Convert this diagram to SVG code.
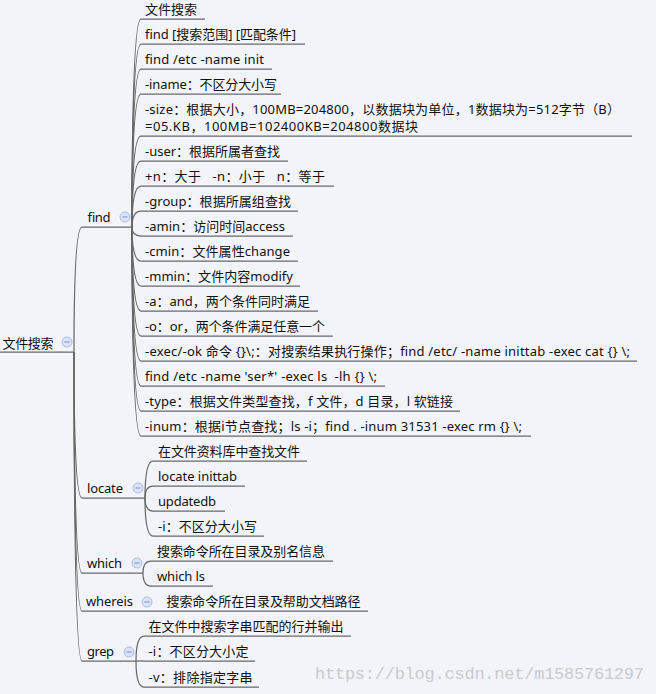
<svg xmlns="http://www.w3.org/2000/svg" width="656" height="694" viewBox="0 0 656 694">
<style>
text{font-family:"Noto Sans","Noto Sans CJK SC",sans-serif;font-size:13px;fill:#111;white-space:pre}
.ul{stroke:#686868;stroke-width:1.25;fill:none}
.cn path{stroke:#686868;stroke-width:1.25;fill:none}
.tg circle{fill:#dbe4f6;stroke:#a9bbe4;stroke-width:1}
.tg line{stroke:#849cd2;stroke-width:1.2}
.wm{font-family:"Liberation Mono",monospace;font-size:17px;fill:#c9cacf}
</style>
<rect width="656" height="694" fill="#f3f4f9"/>
<g id="connectors" class="cn">
<path d="M74,352 Q74,227 82,227"/>
<path d="M74,352 Q74,498 82,498"/>
<path d="M74,352 Q74,573 82,573"/>
<path d="M74,352 Q74,611 82,611"/>
<path d="M74,352 Q74,661 82,661"/>
<path d="M132,227 Q132,19 141,19"/>
<path d="M132,227 Q132,44 141,44"/>
<path d="M132,227 Q132,69 141,69"/>
<path d="M132,227 Q132,94 141,94"/>
<path d="M132,227 Q132,136 141,136"/>
<path d="M132,227 Q132,161 141,161"/>
<path d="M132,227 Q132,186 141,186"/>
<path d="M132,227 Q132,211 141,211"/>
<path d="M132,227 Q132,236 141,236"/>
<path d="M132,227 Q132,261 141,261"/>
<path d="M132,227 Q132,286 141,286"/>
<path d="M132,227 Q132,311 141,311"/>
<path d="M132,227 Q132,336 141,336"/>
<path d="M132,227 Q132,361 141,361"/>
<path d="M132,227 Q132,386 141,386"/>
<path d="M132,227 Q132,411 141,411"/>
<path d="M132,227 Q132,436 141,436"/>
<path d="M145,498 Q145,461 153,461"/>
<path d="M145,498 Q145,486 153,486"/>
<path d="M145,498 Q145,511 153,511"/>
<path d="M145,498 Q145,536 153,536"/>
<path d="M143,573 Q143,561 151,561"/>
<path d="M143,573 Q143,586 151,586"/>
<path d="M136,661 Q136,636 144,636"/>
<path d="M136,661 L144,661"/>
<path d="M136,661 Q136,687 144,687"/>
</g>
<g id="root">
<line class="ul" x1="0" y1="352" x2="74" y2="352"/>
<text x="2.5" y="347.5" textLength="51">文件搜索</text>
<g class="tg"><circle cx="67" cy="342" r="5"/><line x1="64.5" y1="342" x2="69.5" y2="342"/></g>
</g>
<g id="find">
<line class="ul" x1="82" y1="227" x2="132" y2="227"/>
<text x="87" y="222" textLength="23">find</text>
<g class="tg"><circle cx="125" cy="217" r="5"/><line x1="122.5" y1="217" x2="127.5" y2="217"/></g>
</g>
<g id="find-1"><line class="ul" x1="141" y1="19" x2="205" y2="19"/><text x="145" y="14" textLength="52">文件搜索</text></g>
<g id="find-2"><line class="ul" x1="141" y1="44" x2="305" y2="44"/><text x="145" y="39" textLength="151">find [搜索范围] [匹配条件]</text></g>
<g id="find-3"><line class="ul" x1="141" y1="69" x2="272" y2="69"/><text x="145" y="64" textLength="119">find /etc -name init</text></g>
<g id="find-4"><line class="ul" x1="141" y1="94" x2="281" y2="94"/><text x="145" y="89" textLength="132">-iname：不区分大小写</text></g>
<g id="find-5"><line class="ul" x1="141" y1="136" x2="632" y2="136"/><text x="145" y="114" textLength="475">-size：根据大小，100MB=204800，以数据块为单位，1数据块为=512字节（B）</text><text x="145" y="131" textLength="273">=05.KB，100MB=102400KB=204800数据块</text></g>
<g id="find-6"><line class="ul" x1="141" y1="161" x2="288" y2="161"/><text x="145" y="156" textLength="135">-user：根据所属者查找</text></g>
<g id="find-7"><line class="ul" x1="141" y1="186" x2="334" y2="186"/><text x="145" y="181" textLength="180">+n：大于   -n：小于   n：等于</text></g>
<g id="find-8"><line class="ul" x1="141" y1="211" x2="298" y2="211"/><text x="145" y="206" textLength="146">-group：根据所属组查找</text></g>
<g id="find-9"><line class="ul" x1="141" y1="236" x2="293" y2="236"/><text x="145" y="231" textLength="140">-amin：访问时间access</text></g>
<g id="find-10"><line class="ul" x1="141" y1="261" x2="298" y2="261"/><text x="145" y="256" textLength="145">-cmin：文件属性change</text></g>
<g id="find-11"><line class="ul" x1="141" y1="286" x2="300" y2="286"/><text x="145" y="281" textLength="148">-mmin：文件内容modify</text></g>
<g id="find-12"><line class="ul" x1="141" y1="311" x2="318" y2="311"/><text x="145" y="306" textLength="165">-a：and，两个条件同时满足</text></g>
<g id="find-13"><line class="ul" x1="141" y1="336" x2="333" y2="336"/><text x="145" y="331" textLength="180">-o：or，两个条件满足任意一个</text></g>
<g id="find-14"><line class="ul" x1="141" y1="361" x2="637" y2="361"/><text x="145" y="356" textLength="485">-exec/-ok 命令 {}\;：对搜索结果执行操作；find /etc/ -name inittab -exec cat {} \;</text></g>
<g id="find-15"><line class="ul" x1="141" y1="386" x2="385" y2="386"/><text x="145" y="381" textLength="232">find /etc -name 'ser*' -exec ls  -lh {} \;</text></g>
<g id="find-16"><line class="ul" x1="141" y1="411" x2="460" y2="411"/><text x="145" y="406" textLength="308">-type：根据文件类型查找，f 文件，d 目录，l 软链接</text></g>
<g id="find-17"><line class="ul" x1="141" y1="436" x2="531" y2="436"/><text x="145" y="431" textLength="377">-inum：根据i节点查找；ls -i；find . -inum 31531 -exec rm {} \;</text></g>
<g id="locate">
<line class="ul" x1="82" y1="498" x2="145" y2="498"/>
<text x="87" y="493" textLength="36">locate</text>
<g class="tg"><circle cx="138" cy="488" r="5"/><line x1="135.5" y1="488" x2="140.5" y2="488"/></g>
</g>
<g id="locate-1"><line class="ul" x1="153" y1="461" x2="307" y2="461"/><text x="158" y="456" textLength="142">在文件资料库中查找文件</text></g>
<g id="locate-2"><line class="ul" x1="153" y1="486" x2="245" y2="486"/><text x="158" y="481" textLength="79">locate inittab</text></g>
<g id="locate-3"><line class="ul" x1="153" y1="511" x2="225" y2="511"/><text x="158" y="506" textLength="58">updatedb</text></g>
<g id="locate-4"><line class="ul" x1="153" y1="536" x2="264" y2="536"/><text x="158" y="531" textLength="99">-i：不区分大小写</text></g>
<g id="which">
<line class="ul" x1="82" y1="573" x2="143" y2="573"/>
<text x="87" y="568" textLength="35">which</text>
<g class="tg"><circle cx="137" cy="563" r="5"/><line x1="134.5" y1="563" x2="139.5" y2="563"/></g>
</g>
<g id="which-1"><line class="ul" x1="151" y1="561" x2="333" y2="561"/><text x="157" y="556" textLength="168">搜索命令所在目录及别名信息</text></g>
<g id="which-2"><line class="ul" x1="151" y1="586" x2="213" y2="586"/><text x="157" y="581" textLength="48">which ls</text></g>
<g id="whereis">
<line class="ul" x1="82" y1="611" x2="160" y2="611"/>
<text x="86" y="606" textLength="47">whereis</text>
<g class="tg"><circle cx="147" cy="602" r="5"/><line x1="144.5" y1="602" x2="149.5" y2="602"/></g>
</g>
<g id="whereis-1"><line class="ul" x1="160" y1="611" x2="368" y2="611"/><text x="166.5" y="606" textLength="194">搜索命令所在目录及帮助文档路径</text></g>
<g id="grep">
<line class="ul" x1="82" y1="661" x2="136" y2="661"/>
<text x="87" y="656" textLength="27">grep</text>
<g class="tg"><circle cx="129" cy="652" r="5"/><line x1="126.5" y1="652" x2="131.5" y2="652"/></g>
</g>
<g id="grep-1"><line class="ul" x1="144" y1="636" x2="351" y2="636"/><text x="148.5" y="631" textLength="195">在文件中搜索字串匹配的行并输出</text></g>
<g id="grep-2"><line class="ul" x1="144" y1="661" x2="255" y2="661"/><text x="148.5" y="656" textLength="100">-i：不区分大小定</text></g>
<g id="grep-3"><line class="ul" x1="144" y1="687" x2="259" y2="687"/><text x="148.5" y="682" textLength="104">-v：排除指定字串</text></g>
<text class="wm" x="315" y="679" textLength="329">https://blog.csdn.net/m1585761297</text>
</svg>
